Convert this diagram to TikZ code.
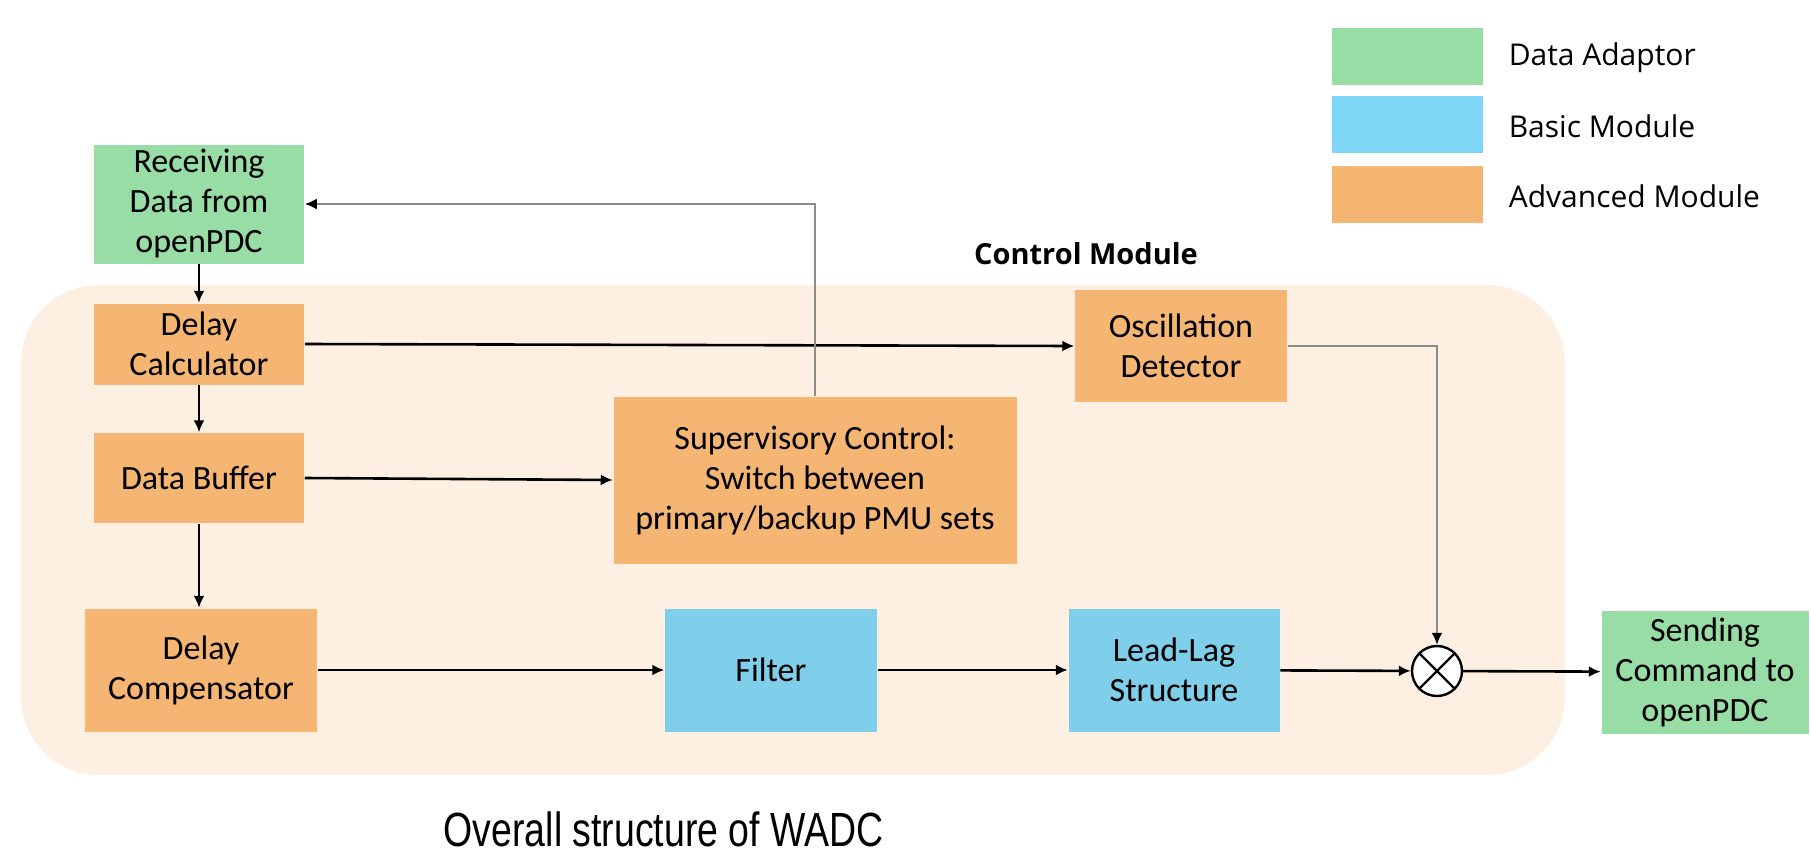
\documentclass[tikz,border=0pt]{standalone}
\usepackage{fontspec}
\setmainfont{Carlito}
\newfontfamily\legendfont{Open Sans}
\newfontfamily\captionfont[FakeStretch=0.78]{Liberation Sans}
\usetikzlibrary{arrows.meta}

\definecolor{adaptgreen}{RGB}{152,221,166}
\definecolor{basicblue}{RGB}{128,207,234}
\definecolor{legendblue}{RGB}{126,214,247}
\definecolor{advorange}{RGB}{245,181,115}
\definecolor{ctrlbg}{RGB}{253,240,227}
\definecolor{linegray}{RGB}{140,140,140}

\tikzset{every picture/.style={line width=0.75pt}}
\tikzset{
  blk/.style={inner sep=0pt, align=center, font=\fontsize{17}{20}\selectfont},
  adaptblk/.style={blk, fill=adaptgreen},
  basicblk/.style={blk, fill=basicblue},
  advblk/.style={blk, fill=advorange},
  keybox/.style={inner sep=0pt, minimum width=75.5pt, minimum height=28.5pt},
  keytext/.style={anchor=west, inner sep=0pt, font=\legendfont\fontsize{15}{18}\selectfont},
  sig/.style={line width=1.3pt, -{Latex[length=6pt,width=5.5pt]}},
  fb/.style={line width=1.3pt, draw=linegray, -{Latex[length=6pt,width=5.5pt,color=black]}}
}

\begin{document}
\begin{tikzpicture}[x=0.5pt,y=0.5pt,yscale=-1,xscale=1]
\useasboundingbox (0,0) rectangle (1811,857);

%Rounded Rect: control module area
\fill [ctrlbg, rounded corners=39pt] (21,285) rectangle (1565,775);
% Text Node
\draw (1086,254) node [font=\legendfont\bfseries\fontsize{14.5}{17}\selectfont] (ctrl) {Control Module};

%Shapes: blocks
\node [adaptblk, minimum width=105pt, minimum height=59.5pt] (recv) at (199,204) {Receiving\\Data from\\openPDC};
\node [advblk, minimum width=105pt, minimum height=40.5pt] (dcalc) at (199,344) {Delay\\Calculator};
\node [advblk, minimum width=105pt, minimum height=45pt] (dbuf) at (199,478) {Data Buffer};
\node [advblk, minimum width=116pt, minimum height=61.5pt] (dcomp) at (201,670) {Delay\\Compensator};
\node [advblk, minimum width=201.5pt, minimum height=83.5pt] (sup) at (815,480) {Supervisory Control:\\Switch between\\primary/backup PMU sets};
\node [advblk, minimum width=106pt, minimum height=56pt] (osc) at (1181,346) {Oscillation\\Detector};
\node [basicblk, minimum width=106pt, minimum height=61.5pt] (filt) at (771,670) {Filter};
\node [basicblk, minimum width=105.5pt, minimum height=61.5pt] (llag) at (1174,670) {Lead-Lag\\Structure};
\node [adaptblk, minimum width=103.5pt, minimum height=61.5pt] (send) at (1705,672) {Sending\\Command to\\openPDC};

%Circle: multiplier
\node [circle, draw, line width=1.2pt, fill=white, minimum size=25pt, inner sep=0pt,
  path picture={\draw [line width=1.2pt] (path picture bounding box.north west) -- (path picture bounding box.south east)
    (path picture bounding box.north east) -- (path picture bounding box.south west);}] (mult) at (1437,671) {};

%Straight Lines
\draw [sig] (recv) -- (dcalc);
\draw [sig] (dcalc) -- (dbuf);
\draw [sig] (dbuf.south) -- (dbuf.south |- dcomp.north);
\draw [sig] (dcalc.east) -- (osc.west);
\draw [sig] (dbuf.east) -- (sup.west);
\draw [sig] (dcomp) -- (filt);
\draw [sig] (filt) -- (llag);
\draw [sig] (llag) -- (mult);
\draw [sig] (mult) -- (send);

%Elbow Lines
\draw [fb] (sup.north) |- (recv.east);
\draw [fb] (osc.east) -| (mult.north);

%Legend
\node [keybox, fill=adaptgreen] (keyA) at (1407.5,56) {};
\node [keybox, fill=legendblue] (keyB) at (1407.5,124) {};
\node [keybox, fill=advorange] (keyC) at (1407.5,194.5) {};
\node [keytext] (txtA) at (1508,58) {Data Adaptor};
\node [keytext] (txtB) at (1508,126) {Basic Module};
\node [keytext] (txtC) at (1508,196) {Advanced Module};

% Text Node
\draw (443,829) node [anchor=west, inner sep=0pt, font=\captionfont\fontsize{24}{28}\selectfont] (cap) {Overall structure of WADC};

\end{tikzpicture}
\end{document}
